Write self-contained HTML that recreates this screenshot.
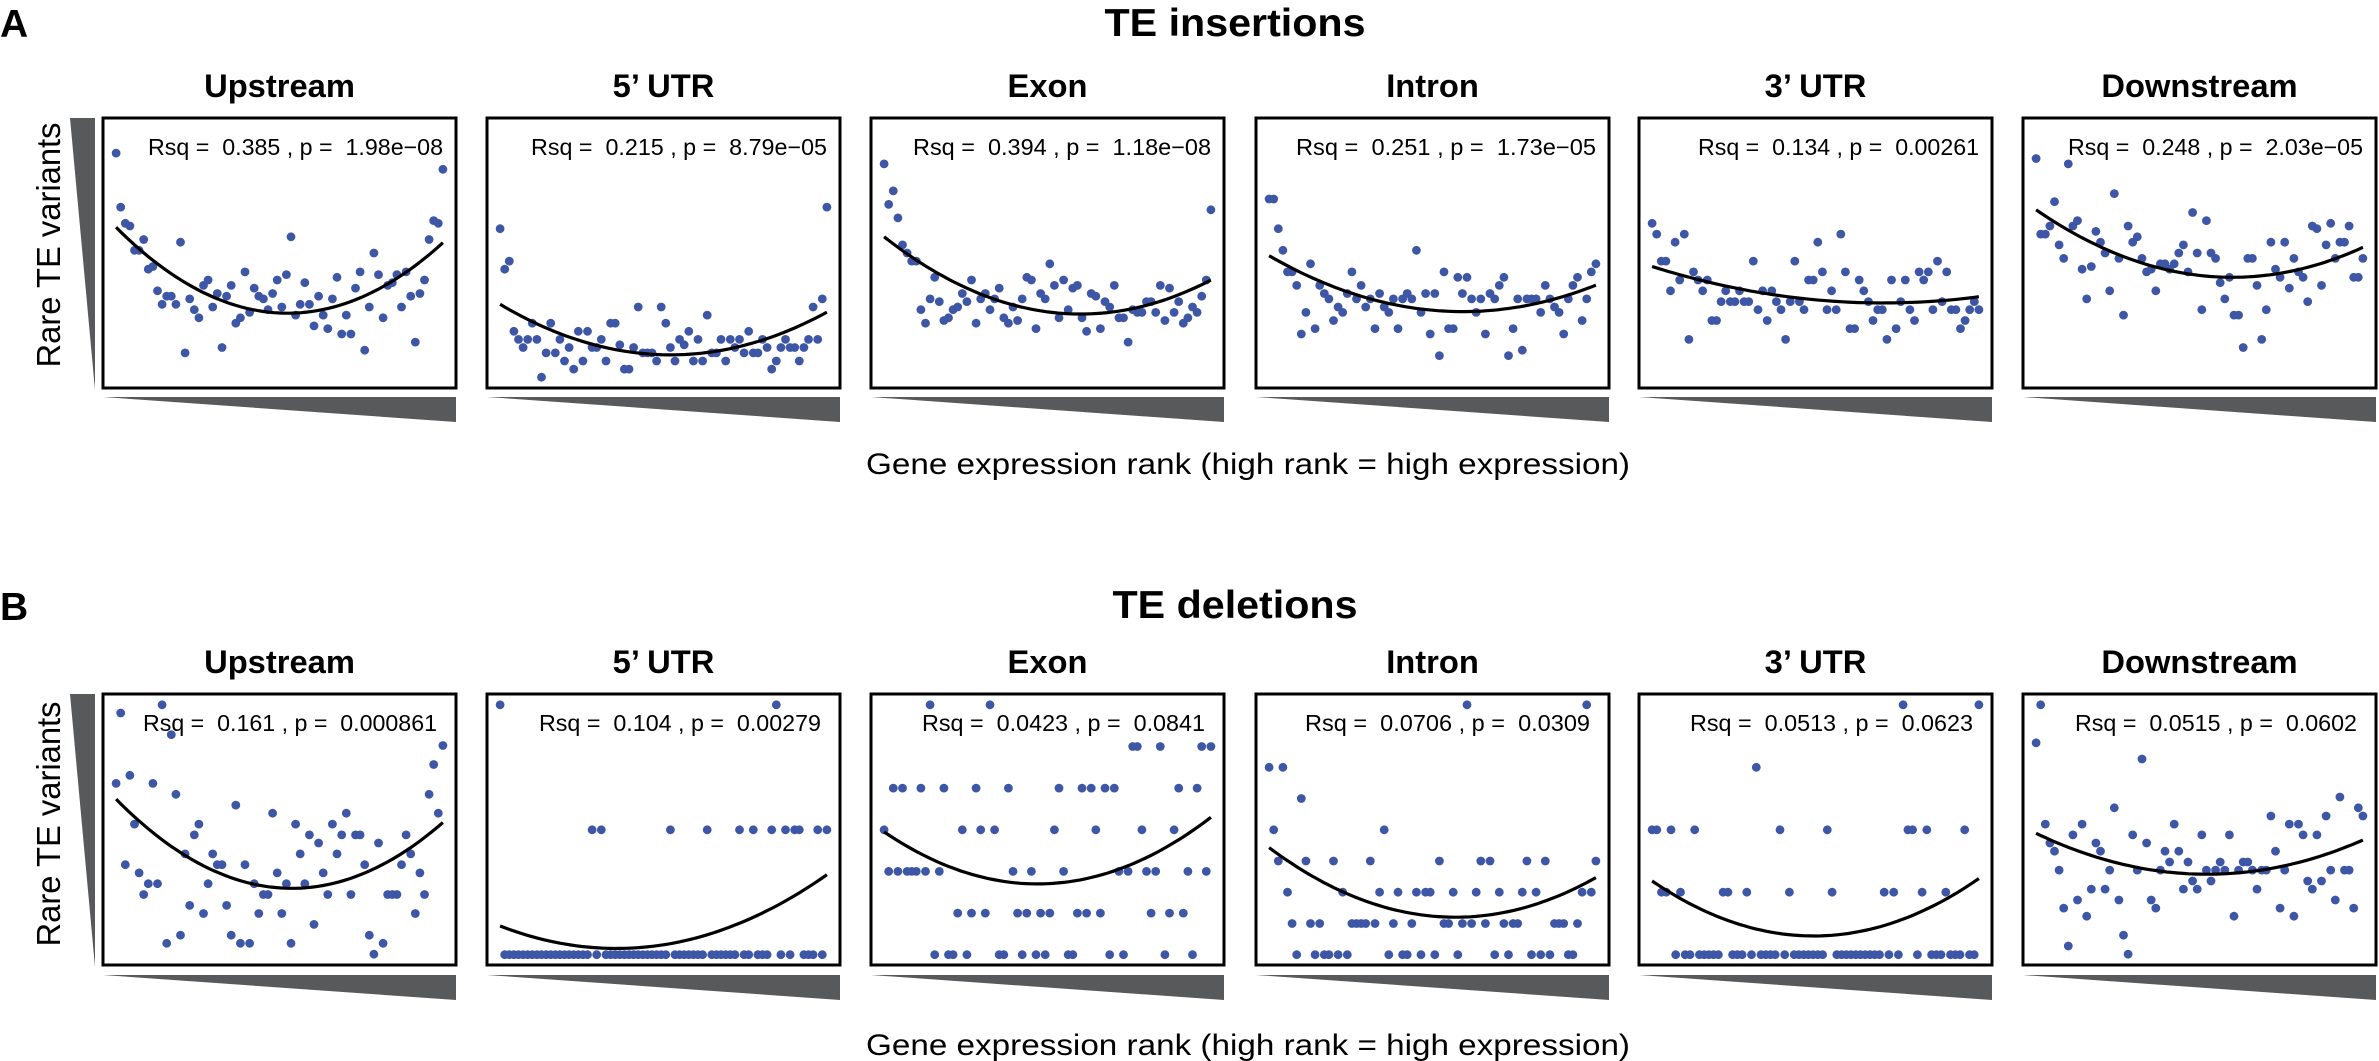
<!DOCTYPE html>
<html><head><meta charset="utf-8"><title>TE variants vs expression rank</title>
<style>html,body{margin:0;padding:0;background:#fff;}svg{display:block;}text{font-family:"Liberation Sans",Arial,sans-serif;white-space:pre;}</style>
</head><body>
<svg id="fig" width="2379" height="1061" viewBox="0 0 2379 1061" xmlns="http://www.w3.org/2000/svg">
<text x="0" y="37" font-size="39" font-weight="bold">A</text>
<text x="1235" y="36" font-size="39" font-weight="bold" text-anchor="middle" textLength="261" lengthAdjust="spacingAndGlyphs">TE insertions</text>
<text x="0" y="620" font-size="39" font-weight="bold">B</text>
<text x="1235" y="618" font-size="39" font-weight="bold" text-anchor="middle" textLength="245" lengthAdjust="spacingAndGlyphs">TE deletions</text>
<text transform="translate(60,245) rotate(-90)" font-size="33" text-anchor="middle" textLength="245" lengthAdjust="spacingAndGlyphs">Rare TE variants</text>
<text transform="translate(60,824) rotate(-90)" font-size="33" text-anchor="middle" textLength="245" lengthAdjust="spacingAndGlyphs">Rare TE variants</text>
<text x="866" y="474" font-size="30" textLength="764" lengthAdjust="spacingAndGlyphs">Gene expression rank (high rank = high expression)</text>
<text x="866" y="1055" font-size="30" textLength="764" lengthAdjust="spacingAndGlyphs">Gene expression rank (high rank = high expression)</text>
<polygon points="70,118 95,118 95,390" fill="#58595b"/>
<polygon points="70,694 95,694 95,967" fill="#58595b"/>
<g id="panels"></g>
</svg>
<script>
// ---- data: panel titles ----
const regionTitles = ["Upstream","5\u2019 UTR","Exon","Intron","3\u2019 UTR","Downstream"];
const statsTop = ["Rsq =  0.385 , p =  1.98e\u221208","Rsq =  0.215 , p =  8.79e\u221205","Rsq =  0.394 , p =  1.18e\u221208","Rsq =  0.251 , p =  1.73e\u221205","Rsq =  0.134 , p =  0.00261","Rsq =  0.248 , p =  2.03e\u221205"];
const statsBottom = ["Rsq =  0.161 , p =  0.000861","Rsq =  0.104 , p =  0.00279","Rsq =  0.0423 , p =  0.0841","Rsq =  0.0706 , p =  0.0309","Rsq =  0.0513 , p =  0.0623","Rsq =  0.0515 , p =  0.0602"];
// ---- data: TE insertions (relative rare-variant level, ordered by expression rank) ----
const insUpstream = [87,67,61,60,51,51,55,44,45,36,31,34,34,31,54,13,33,29,26,38,40,30,35,15,34,38,24,26,43,28,37,34,33,29,35,40,30,42,56,27,31,39,31,23,34,27,22,33,41,20,27,20,37,43,14,30,50,42,26,38,39,42,30,43,34,17,35,40,55,62,61,81];
const ins5UTR = [59,44,47,21,18,15,18,24,18,4,13,24,13,18,10,15,7,21,10,21,15,15,18,10,24,24,16,7,7,15,30,13,13,13,10,30,24,15,10,18,16,21,10,18,10,27,13,13,18,10,18,15,18,13,21,13,13,18,15,7,10,15,18,15,15,10,15,18,30,18,33,67];
const insExon = [83,68,73,63,53,50,47,47,29,24,33,41,32,25,26,29,30,35,32,40,24,33,35,29,33,37,26,24,30,25,33,41,40,22,35,33,46,38,26,40,29,37,38,26,21,35,34,22,32,30,38,26,26,17,29,28,28,32,32,28,38,25,37,28,32,24,26,30,28,34,40,66];
const insIntron = [70,70,59,51,43,43,38,20,28,46,22,38,35,33,25,30,28,35,43,33,38,30,33,22,35,30,28,33,22,33,35,33,51,28,35,20,35,12,43,22,22,41,35,41,33,28,33,20,35,33,38,41,12,22,33,14,33,33,33,28,38,33,30,28,20,33,38,41,25,33,43,46];
const ins3UTR = [61,57,47,47,36,54,40,57,18,43,40,36,40,25,25,32,36,32,32,36,32,32,47,29,36,25,36,32,29,18,32,47,32,29,40,40,54,43,29,36,29,57,43,22,22,40,36,32,25,29,29,18,40,22,32,40,29,25,43,40,43,29,47,32,43,29,29,22,25,29,32,29];
const insDownstream = [85,57,57,60,69,53,48,83,60,62,44,33,45,58,54,50,36,72,48,27,60,54,56,48,43,44,36,46,46,44,46,50,53,43,65,50,29,62,50,48,39,33,41,27,27,15,48,48,38,18,29,54,44,41,54,37,48,43,41,32,60,59,38,53,61,48,54,54,60,41,41,48];
// ---- data: TE deletions ----
const delUpstream = [67,93,37,70,52,34,26,30,67,30,96,8,85,63,11,41,22,48,52,19,30,41,37,37,22,11,59,8,37,8,30,19,26,26,56,34,19,30,8,52,41,30,48,15,45,34,26,52,41,48,56,26,48,48,37,11,4,45,8,26,26,26,37,48,41,19,34,26,63,74,56,81];
const del5UTR = [2,0,0,0,0,0,0,0,0,0,0,0,0,0,0,0,0,0,0,0,1,0,1,0,0,0,0,0,0,0,0,0,0,0,0,0,0,1,0,0,0,0,0,0,0,1,0,0,0,0,0,0,1,0,0,1,0,0,0,1,2,0,1,0,1,1,0,0,0,1,0,1];
const delExon = [3,2,4,2,4,2,2,2,4,2,6,0,2,4,0,0,1,3,0,1,4,3,1,6,3,0,0,4,2,1,0,1,2,0,1,0,1,3,4,2,0,0,1,4,1,4,3,1,4,0,4,2,0,2,5,5,3,2,1,2,5,0,1,3,4,1,2,0,4,5,2,5];
const delIntron = [6,4,3,6,2,1,0,5,3,1,0,1,0,0,3,0,2,0,1,1,1,1,3,1,2,4,0,1,2,0,0,1,2,0,2,2,0,3,1,1,2,0,1,8,1,2,3,1,3,0,2,1,0,1,1,2,3,0,2,0,3,0,1,1,1,0,0,1,2,8,2,3];
const del3UTR = [2,2,1,1,2,0,1,0,0,2,0,0,0,0,0,1,1,0,0,0,1,0,3,0,0,0,0,2,0,1,0,0,0,0,0,0,0,2,1,0,0,0,0,0,0,0,0,0,0,1,0,1,0,4,2,2,0,1,2,0,0,0,1,0,0,0,2,0,0,4];
const delDownstream = [82,96,52,45,42,35,21,7,48,24,52,18,28,45,42,28,35,58,24,11,4,48,35,76,45,24,21,35,42,38,52,42,28,38,31,28,48,35,31,35,38,35,48,18,35,38,38,35,28,35,35,55,42,21,35,52,18,52,48,31,28,48,31,55,35,24,62,35,35,21,58,55];
// ---- data: quadratic fit (left value, vertex position, vertex value, right value) ----
const fitLeftTop = [59.5,31,56,49,45,66];
const fitMinXTop = [0.52,0.54,0.59,0.60,0.70,0.60];
const fitMinTop = [27.7,12.3,27.4,28.3,31.5,41];
const fitRightTop = [53.8,28.1,40,38.1,33.8,52.1];
const fitLeftBottom = [61.2,0.23,2.95,3.43,1.18,48.6];
const fitMinXBottom = [0.53,0.35,0.47,0.57,0.49,0.53];
const fitMinBottom = [28.3,0.05,1.7,1.2,0.3,33.5];
const fitRightBottom = [52.6,0.64,3.3,2.47,1.22,46.1];
// count-scale maxima for discrete deletion panels (null = relative 0-100 scale)
const levelMaxBottom = [null,2,6,8,4,null];

const insSeries = [insUpstream,ins5UTR,insExon,insIntron,ins3UTR,insDownstream];
const delSeries = [delUpstream,del5UTR,delExon,delIntron,del3UTR,delDownstream];

const NS = "http://www.w3.org/2000/svg";
const boxX = [103,487,871,1256,1639,2023];
const boxW = 353;
const rows = [
  {key:"ins", top:118, h:270, titleY:97, statY:155, statInset:13, triTop:397, series:insSeries, stats:statsTop,
   fl:fitLeftTop, fx:fitMinXTop, fm:fitMinTop, fr:fitRightTop, lv:[null,null,null,null,null,null],
   widths:[295,296,298,300,281,295]},
  {key:"del", top:694, h:271, titleY:673, statY:731, statInset:19, triTop:975, series:delSeries, stats:statsBottom,
   fl:fitLeftBottom, fx:fitMinXBottom, fm:fitMinBottom, fr:fitRightBottom, lv:levelMaxBottom,
   widths:[294,282,283,285,283,282]}
];
const root = document.getElementById("panels");
function mk(tag, attrs, parent){const e=document.createElementNS(NS,tag);for(const k in attrs)e.setAttribute(k,attrs[k]);parent.appendChild(e);return e;}

rows.forEach((row)=>{
  for(let p=0;p<6;p++){
    const g = mk("g",{},root);
    
    
    const x0=boxX[p], y0=row.top, h=row.h;
    const title = mk("text",{x:x0+boxW/2,y:row.titleY,"font-size":"32.7","font-weight":"bold","text-anchor":"middle"},g);
    title.textContent = regionTitles[p];
    
    
    // y scale
    const lvMax = row.lv[p];
    let lo=0, hi=100;
    if(lvMax!==null){ lo = -3.8/92.2*lvMax; hi = lvMax + 4.0/92.2*lvMax; }
    const yS = v => y0 + h - (v-lo)/(hi-lo)*h;
    const xS = f => x0 + boxW*(0.037 + f*(0.963-0.037));
    const vals = row.series[p];
    const n = vals.length;
    vals.forEach((v,i)=>{
      const c = mk("circle",{cx:xS(i/(n-1)).toFixed(1),cy:yS(v).toFixed(1),r:"4.4",fill:"#3d56a6"},g);
      
      
    });
    // quadratic through three points
    const xa=0, xb=row.fx[p], xc=1, ya=row.fl[p], yb=row.fm[p], yc=row.fr[p];
    const q = t => ya*(t-xb)*(t-xc)/((xa-xb)*(xa-xc)) + yb*(t-xa)*(t-xc)/((xb-xa)*(xb-xc)) + yc*(t-xa)*(t-xb)/((xc-xa)*(xc-xb));
    let d="";
    for(let k=0;k<=60;k++){const t=k/60;d+=(k?"L":"M")+xS(t).toFixed(1)+","+yS(q(t)).toFixed(1);}
    const curve = mk("path",{d:d,fill:"none",stroke:"#000","stroke-width":"3.2"},g);
    
    
    const box = mk("rect",{x:x0,y:y0,width:boxW,height:h,fill:"none",stroke:"#000","stroke-width":"3"},g);
    
    
    const st = mk("text",{x:x0+boxW-row.statInset,y:row.statY,"font-size":"23","text-anchor":"end",textLength:row.widths[p],lengthAdjust:"spacingAndGlyphs"},g);
    st.textContent = row.stats[p];
    
    
    const tri = mk("polygon",{points:x0+","+row.triTop+" "+(x0+boxW)+","+row.triTop+" "+(x0+boxW)+","+(row.triTop+25),fill:"#58595b"},g);
    
    
  }
});
</script>
</body></html>
